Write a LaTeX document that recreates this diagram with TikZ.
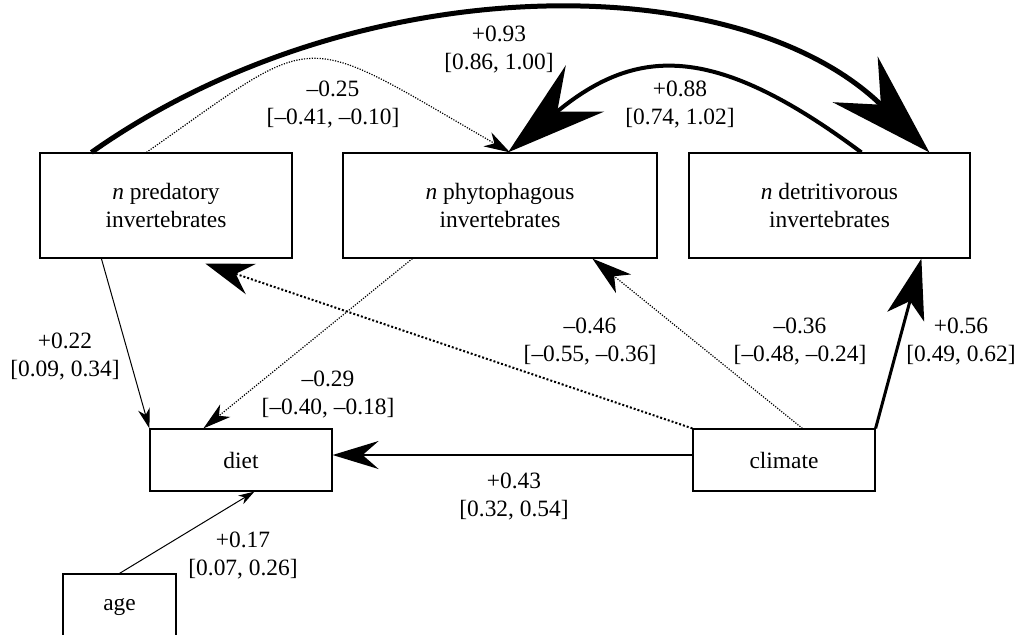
\documentclass[tikz,border=0pt]{standalone}
\usepackage{fontspec}
\setmainfont{Liberation Serif}
\usetikzlibrary{arrows.meta}

\tikzset{
  boxed/.style={draw, line width=0.6pt, align=center, inner sep=0pt, minimum height=52.5pt},
  smallbox/.style={boxed, minimum width=91pt, minimum height=31pt},
  coef/.style={align=center, inner sep=0pt},
  weak/.style={line width=0.5pt},
  dots/.style={line width=0.6pt, dash pattern=on 0.6pt off 0.7pt},
}

\begin{document}
\begin{tikzpicture}[x=0.5pt,y=-0.5pt,font=\fontsize{11.7}{14}\selectfont]
\useasboundingbox (0,0) rectangle (1019,634);

%% boxes
\node[boxed, minimum width=126pt] (pred) at (166,205.5) {\textit{n} predatory\\invertebrates};
\node[boxed, minimum width=157pt] (phyto) at (500,205.5) {\textit{n} phytophagous\\invertebrates};
\node[boxed, minimum width=140.5pt] (detri) at (829.5,205.5) {\textit{n} detritivorous\\invertebrates};
\node[smallbox] (diet) at (241,460) {diet};
\node[smallbox] (climate) at (784,460) {climate};
\node[boxed, minimum width=56.5pt, minimum height=33pt] (age) at (119.5,607) {age};

%% curved paths on top
\draw[line width=2.5pt, -{Stealth[length=52pt,width=32pt,inset=18pt]}]
  ([xshift=26pt]pred.north west) .. controls +(265,-187) and +(-190,-187) .. ([xshift=120.5pt]detri.north west);
\draw[dots, -{Stealth[length=13pt,width=8pt,inset=4pt]}]
  ([xshift=53.5pt]pred.north west) .. controls +(177,-124) and +(-215,-124) .. ([xshift=5pt]phyto.north);
\draw[line width=2pt, -{Stealth[length=50pt,width=30pt,inset=18pt]}]
  ([xshift=86.5pt]detri.north west) .. controls +(-145,-108) and +(130,-108) .. ([xshift=4pt]phyto.north);

%% straight paths
\draw[weak, -{Stealth[length=10pt,width=6pt,inset=3pt]}]
  ([xshift=31pt]pred.south west) -- (diet.north west);
\draw[dots, -{Stealth[length=14pt,width=8pt,inset=4pt]}]
  ([xshift=35pt]phyto.south west) -- ([xshift=27pt]diet.north west);
\draw[line width=1pt, dash pattern=on 1pt off 1pt, -{Stealth[length=24pt,width=16pt,inset=8pt]}]
  (climate.north west) -- ([xshift=83pt,yshift=-2.5pt]pred.south west);
\draw[dots, -{Stealth[length=20pt,width=12pt,inset=6pt]}]
  ([xshift=55pt]climate.north west) -- ([xshift=125pt]phyto.south west);
\draw[line width=1.5pt, -{Stealth[length=30pt,width=19pt,inset=8pt]}]
  (climate.north east) -- ([xshift=116.5pt]detri.south west);
\draw[line width=1pt, -{Stealth[length=23pt,width=14pt,inset=8pt]}]
  ([yshift=2.5pt]climate.west) -- ([yshift=2.5pt]diet.east);
\draw[weak, -{Stealth[length=8pt,width=5pt,inset=2.5pt]}]
  (age.north) -- ([xshift=52.5pt]diet.south west);

%% coefficients
\node[coef] (c93) at (499,50) {+0.93\\{}[0.86, 1.00]};
\node[coef] (c25) at (333,105) {–0.25\\{}[–0.41, –0.10]};
\node[coef] (c88) at (680,105) {+0.88\\{}[0.74, 1.02]};
\node[coef] (c22) at (65,357) {+0.22\\{}[0.09, 0.34]};
\node[coef] (c29) at (328,395) {–0.29\\{}[–0.40, –0.18]};
\node[coef] (c46) at (590,342) {–0.46\\{}[–0.55, –0.36]};
\node[coef] (c36) at (800,342) {–0.36\\{}[–0.48, –0.24]};
\node[coef] (c56) at (961,342) {+0.56\\{}[0.49, 0.62]};
\node[coef] (c43) at (514,497) {+0.43\\{}[0.32, 0.54]};
\node[coef] (c17) at (243,556) {+0.17\\{}[0.07, 0.26]};

\end{tikzpicture}
\end{document}
